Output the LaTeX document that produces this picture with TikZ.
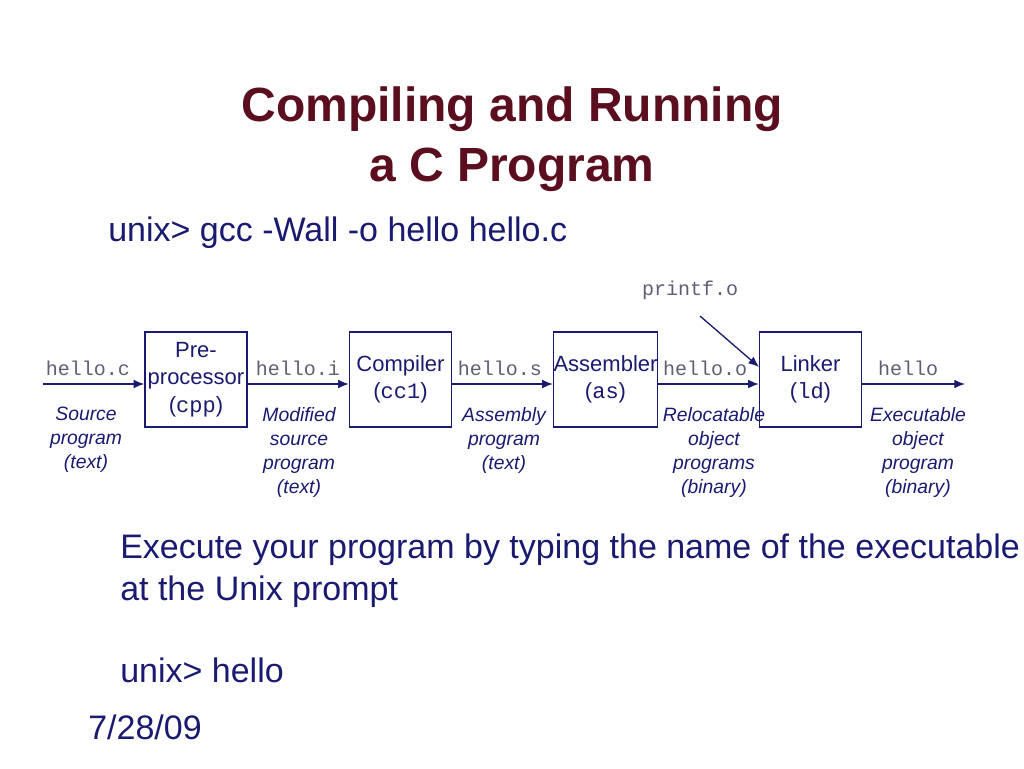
\documentclass[tikz,border=0pt]{standalone}
\usepackage{fontspec}
\setmainfont{Liberation Sans}
\setmonofont{Liberation Mono}
\usetikzlibrary{arrows.meta}
\definecolor{titlered}{RGB}{90,14,30}
\definecolor{inkblue}{RGB}{26,26,112}
\definecolor{filegray}{RGB}{95,95,115}
\begin{document}
\begin{tikzpicture}[x=0.75pt, y=-0.75pt,
        stage/.style={draw=inkblue, line width=1pt, minimum width=76.5pt, minimum height=71.25pt,
            inner sep=0pt, align=center, text=inkblue, font=\fontsize{16.5}{20.5}\selectfont},
        file/.style={text=filegray, inner sep=0pt, font=\ttfamily\fontsize{15}{18}\selectfont},
        descr/.style={text=inkblue, anchor=north, align=center, inner sep=0pt,
            font=\itshape\fontsize{14.5}{18}\selectfont},
        body/.style={text=inkblue, anchor=base west, inner sep=0pt, font=\fontsize{25.5}{30}\selectfont},
        flow/.style={draw=inkblue, line width=1pt, -{Latex[length=8pt,width=6.5pt]}}
    ]
    \useasboundingbox (0,0) rectangle (1024,768);

    % Titolo
    \node[text=titlered, anchor=base, inner sep=0pt, font=\bfseries\fontsize{36}{43}\selectfont]
        (title1) at (512,121) {Compiling and Running};
    \node[text=titlered, anchor=base, inner sep=0pt, font=\bfseries\fontsize{36}{43}\selectfont]
        (title2) at (512,181) {a C Program};
    \node[body] (cmd) at (108,241) {unix> gcc -Wall -o hello hello.c};

    % Fasi
    \node[stage] (cpp) at (196,379.5) {Pre-\\processor\\(\texttt{cpp})};
    \node[stage] (cc1) at (400.5,379.5) {Compiler\\(\texttt{cc1})};
    \node[stage] (as) at (605.5,379.5) {Assembler\\(\texttt{as})};
    \node[stage] (ld) at (810.5,379.5) {Linker\\(\texttt{ld})};

    % Estremi
    \coordinate (src) at (43,384);
    \coordinate (out) at (965,384);
    \coordinate (pf) at (700,316);
    \coordinate (pfin) at (759,367);

    % Frecce
    \draw[flow] (src) -- (src -| cpp.west);
    \draw[flow] (src -| cpp.east) -- (src -| cc1.west);
    \draw[flow] (src -| cc1.east) -- (src -| as.west);
    \draw[flow] (src -| as.east) -- (src -| ld.west);
    \draw[flow] (src -| ld.east) -- (out);
    \draw[flow] (pf) -- (pfin);

    % File
    \node[file] (fc) at (88,368) {hello.c};
    \node[file] (fi) at (298,368) {hello.i};
    \node[file] (fs) at (500,368) {hello.s};
    \node[file] (fo) at (705,368) {hello.o};
    \node[file] (fx) at (908,368) {hello};
    \node[file] (fp) at (690,290) {printf.o};

    % Descrizioni
    \node[descr] (dc) at (86,407) {Source\\program\\(text)};
    \node[descr] (di) at (299,407) {Modified\\source\\program\\(text)};
    \node[descr] (ds) at (504,407) {Assembly\\program\\(text)};
    \node[descr] (do) at (714,407) {Relocatable\\object\\programs\\(binary)};
    \node[descr] (dx) at (918,407) {Executable\\object\\program\\(binary)};

    % Testo
    \node[body] (run1) at (120,558) {Execute your program by typing the name of the executable};
    \node[body] (run2) at (120,600) {at the Unix prompt};
    \node[body] (run3) at (120,682) {unix> hello};
    \node[body] (date) at (88,739) {7/28/09};
\end{tikzpicture}
\end{document}
